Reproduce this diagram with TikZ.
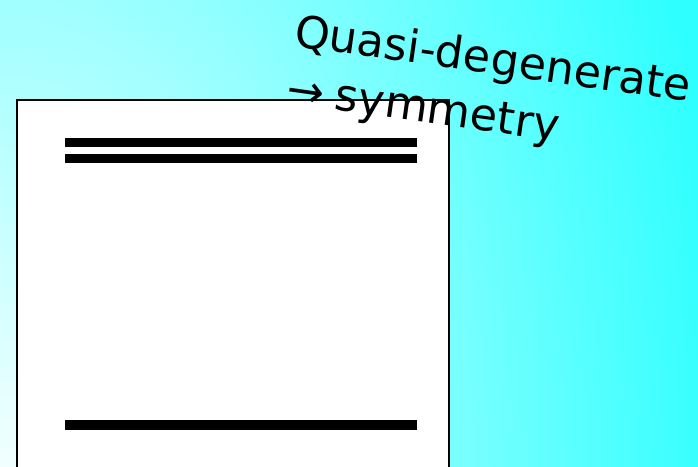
\documentclass[tikz,border=0pt]{standalone}
\usepackage{fontspec}
\newfontfamily\labelfont{DejaVu Sans}
\definecolor{bgedge}{HTML}{2EFFFF}
\definecolor{bgcore}{HTML}{F2FFFF}
% soft glow spreading from the lower left corner
\pgfdeclareradialshading{cornerglow}{\pgfpoint{0bp}{0bp}}{color(0bp)=(bgcore); color(25bp)=(bgedge); color(50bp)=(bgedge)}
\tikzset{
  panel/.style={fill=white, draw=black, line width=1.6pt},
  level/.style={fill=black},
  caption/.style={font=\labelfont\fontsize{44.5}{52}\selectfont, inner sep=0pt, anchor=base west, rotate=-8}
}
\begin{document}
\begin{tikzpicture}[x=1pt, y=1pt]
  \useasboundingbox (0,0) rectangle (698,466);
  \begin{scope}
    \clip (0,0) rectangle (698,466);
    % background
    \fill[bgedge] (-5,-5) rectangle (703,471);
    \shade[shading=cornerglow] (0,0) ellipse [x radius=740, y radius=1120];
    % level panel
    \draw[panel] (17,366) rectangle (449,-10);
  \end{scope}
  \fill[level] (65,327.5) rectangle (417,318.5);
  \fill[level] (65,312) rectangle (417,302.5);
  \fill[level] (65,46) rectangle (417,36);
  % caption
  \node[caption] (title) at (293,420) {Quasi-degenerate};
  \node[caption] (arrowline) at (285,363) {→\kern12pt symmetry};
\end{tikzpicture}
\end{document}
